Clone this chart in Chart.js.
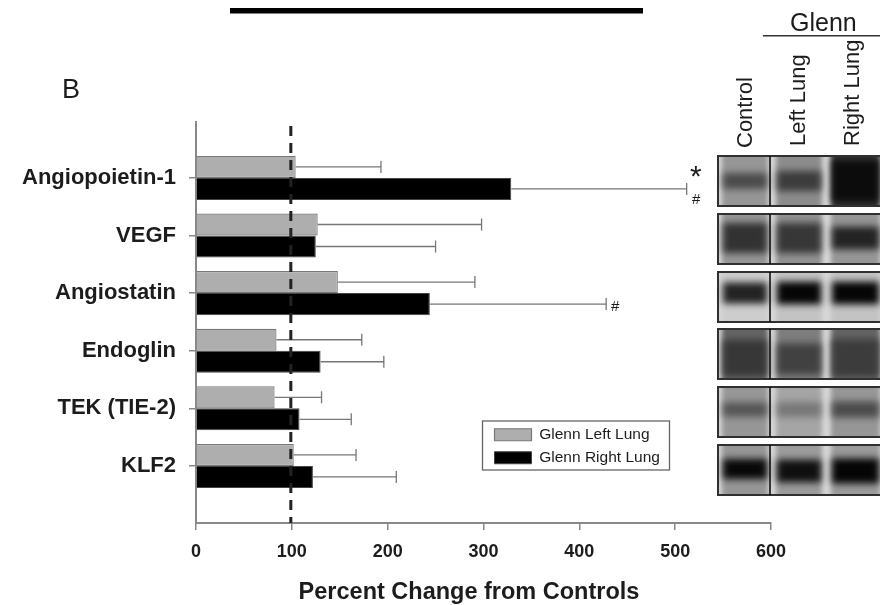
<!DOCTYPE html>
<html><head><meta charset="utf-8">
<script src="https://cdn.jsdelivr.net/npm/chart.js@4"></script>
<style>html,body{margin:0;padding:0;background:#fff}canvas{display:block}</style>
</head><body><canvas id="c" width="880" height="605"></canvas>
<script>
const categories = ["Angiopoietin-1","VEGF","Angiostatin","Endoglin","TEK (TIE-2)","KLF2"];
const positions = [0,1,2,3,4,5];
const leftLung = [104,127,148,84,82,102];
const rightLung = [329,125,244,130,108,122];
const leftUpper = [193,298,291,173,131,167];
const rightUpper = [512,250,428,196,162,209];
const xTicks = [0,100,200,300,400,500,600];
const referenceValue = 100;
// blot lanes per row: [lane background grey, band grey, band height fraction, band centre fraction]
const blotAngiopoietin = [[150,75,.32,.5],[140,60,.4,.5],[55,12,.85,.5]];
const blotVEGF = [[150,50,.6,.48],[145,55,.6,.48],[150,35,.45,.48]];
const blotAngiostatin = [[205,35,.42,.42],[195,5,.45,.42],[195,5,.45,.42]];
const blotEndoglin = [[100,55,.72,.58],[125,65,.62,.6],[100,60,.75,.58]];
const blotTEK = [[150,85,.28,.45],[165,120,.3,.45],[150,75,.32,.45]];
const blotKLF2 = [[150,8,.4,.48],[155,15,.45,.52],[155,5,.5,.52]];
const blots = [blotAngiopoietin,blotVEGF,blotAngiostatin,blotEndoglin,blotTEK,blotKLF2];

const grey = '#aeaeae', dark = '#000';
const textCol = '#1c1c1c';

const overlays = {
  id:'overlays',
  afterLayout(chart){
    const s = chart.scales.x, orig = s.drawTitle.bind(s);
    s.drawTitle = function(){
      s.left -= 14.5; s.right -= 14.5; s.bottom += 2;
      orig();
      s.left += 14.5; s.right += 14.5; s.bottom -= 2;
    };
  },
  beforeDraw(chart){
    const l = chart.legend;
    const w = l.right-l.left, h = l.bottom-l.top;
    l.left = 487; l.top = 419.5; l.right = 487+w; l.bottom = 419.5+h;
  },
  beforeDatasetsDraw(chart){
    const ctx = chart.ctx;
    ctx.save();
    ctx.strokeStyle = '#666'; ctx.lineWidth = 1.3;
    ctx.strokeRect(482.5,421,187,49);
    ctx.restore();
  },
  afterDatasetsDraw(chart){
    const ctx = chart.ctx, xs = chart.scales.x, ys = chart.scales.y;
    const dy = 11;
    ctx.save();
    ctx.strokeStyle = '#777'; ctx.lineWidth = 1.3;
    const eb = (vals, ups, off) => vals.forEach((v,i)=>{
      const y = ys.getPixelForValue(positions[i]) + off;
      const x0 = xs.getPixelForValue(v), x1 = xs.getPixelForValue(ups[i]);
      ctx.beginPath(); ctx.moveTo(x0,y); ctx.lineTo(x1,y);
      ctx.moveTo(x1,y-6); ctx.lineTo(x1,y+6); ctx.stroke();
    });
    eb(leftLung,leftUpper,-dy); eb(rightLung,rightUpper,dy);
    ctx.strokeStyle = '#222'; ctx.lineWidth = 3; ctx.setLineDash([10,7]);
    const rx = xs.getPixelForValue(referenceValue) - 1;
    ctx.beginPath(); ctx.moveTo(rx,126); ctx.lineTo(rx,ys.bottom); ctx.stroke();
    ctx.restore();
  },
  afterDraw(chart){
    const ctx = chart.ctx;
    ctx.save();
    ctx.fillStyle = '#000'; ctx.fillRect(230,8,413,5.5);
    ctx.fillStyle = textCol; ctx.textBaseline='alphabetic'; ctx.textAlign='left';
    ctx.font = '27px "Liberation Sans"'; ctx.fillText('B',62,98);
    ctx.font = '25px "Liberation Sans"'; ctx.fillText('Glenn',790,31);
    ctx.fillStyle='#333'; ctx.fillRect(763,35,117,1.5); ctx.fillStyle=textCol;
    ctx.font = '22px "Liberation Sans"';
    [['Control',752,148],['Left Lung',805,146],['Right Lung',859,146]].forEach(([t,x,y])=>{
      ctx.save(); ctx.translate(x,y); ctx.rotate(-Math.PI/2); ctx.fillText(t,0,0); ctx.restore();
    });
    ctx.font = '30px "Liberation Sans"'; ctx.fillText('*',690,186);
    ctx.font = '15px "Liberation Sans"'; ctx.fillText('#',692,204);
    ctx.fillText('#',611,311);
    // blots
    const tops = [156,214,272,329,387,445];
    const laneX = [[722,768],[776,822],[831,880]];
    tops.forEach((top,r)=>{
      const h = 50, L = 718;
      ctx.save();
      ctx.beginPath(); ctx.rect(L,top,880-L,h); ctx.clip();
      ctx.fillStyle = '#d8d8d8'; ctx.fillRect(L,top,880-L,h);
      blots[r].forEach((lane,i)=>{
        const [a,b] = laneX[i];
        const g = lane[0], k = lane[1], f = lane[2], c = lane[3];
        ctx.filter = 'blur(2.5px)';
        ctx.fillStyle = `rgb(${g},${g},${g})`;
        ctx.fillRect(a,top-6,b-a,h+12);
        ctx.filter = 'blur(3.5px)';
        ctx.fillStyle = `rgb(${k},${k},${k})`;
        const bh = h*f;
        ctx.fillRect(a+1,top+h*c-bh/2,b-a-2,bh);
      });
      ctx.restore();
      ctx.strokeStyle = '#303030'; ctx.lineWidth = 2;
      ctx.beginPath(); ctx.moveTo(880,top); ctx.lineTo(L,top); ctx.lineTo(L,top+h); ctx.lineTo(880,top+h); ctx.stroke();
      ctx.strokeStyle = '#111'; ctx.lineWidth = 1.6;
      ctx.beginPath(); ctx.moveTo(770,top); ctx.lineTo(770,top+h); ctx.stroke();
    });
    ctx.restore();
  }
};

new Chart(document.getElementById('c'),{
  type:'bar',
  plugins:[overlays],
  data:{
    datasets:[
      {label:'Glenn Left Lung',data:positions.map((p,i)=>({x:leftLung[i],y:p})),backgroundColor:grey,borderColor:'#777',borderWidth:1.2,categoryPercentage:.764,barPercentage:1},
      {label:'Glenn Right Lung',data:positions.map((p,i)=>({x:rightLung[i],y:p})),backgroundColor:dark,borderColor:'#444',borderWidth:1,categoryPercentage:.764,barPercentage:1}
    ]
  },
  options:{
    indexAxis:'y',responsive:false,animation:false,devicePixelRatio:1,
    layout:{padding:{top:122,right:109,left:0,bottom:0}},
    plugins:{
      tooltip:{enabled:false},
      legend:{position:'chartArea',align:'start',
        labels:{boxWidth:37,boxHeight:12,padding:7.5,color:textCol,font:{family:'"Liberation Sans"',size:15.5}}}
    },
    scales:{
      x:{type:'linear',position:'bottom',min:0,max:600,
        afterBuildTicks(s){s.ticks=xTicks.map(v=>({value:v}));},
        afterFit(s){s.height=82;},
        border:{color:'#888',width:2},
        grid:{drawOnChartArea:false,color:'#888',tickLength:7,lineWidth:1.5},
        ticks:{color:textCol,padding:11,maxRotation:0,font:{family:'"Liberation Sans"',size:18,weight:'bold'}},
        title:{display:true,text:'Percent Change from Controls',color:textCol,padding:{top:0,bottom:0},font:{family:'"Liberation Sans"',size:23.5,weight:'bold'}}
      },
      y:{type:'linear',position:'left',reverse:true,min:-0.97,max:5.99,offset:false,
        afterBuildTicks(s){s.ticks=positions.map(v=>({value:v}));},
        afterFit(s){s.width=196;},
        border:{color:'#888',width:2},
        grid:{drawOnChartArea:false,offset:false,color:'#888',tickLength:7,lineWidth:1.5},
        ticks:{color:textCol,padding:13,autoSkip:false,font:{family:'"Liberation Sans"',size:22,weight:'bold'},
          callback(v){return categories[v];}}
      }
    }
  }
});
</script></body></html>
